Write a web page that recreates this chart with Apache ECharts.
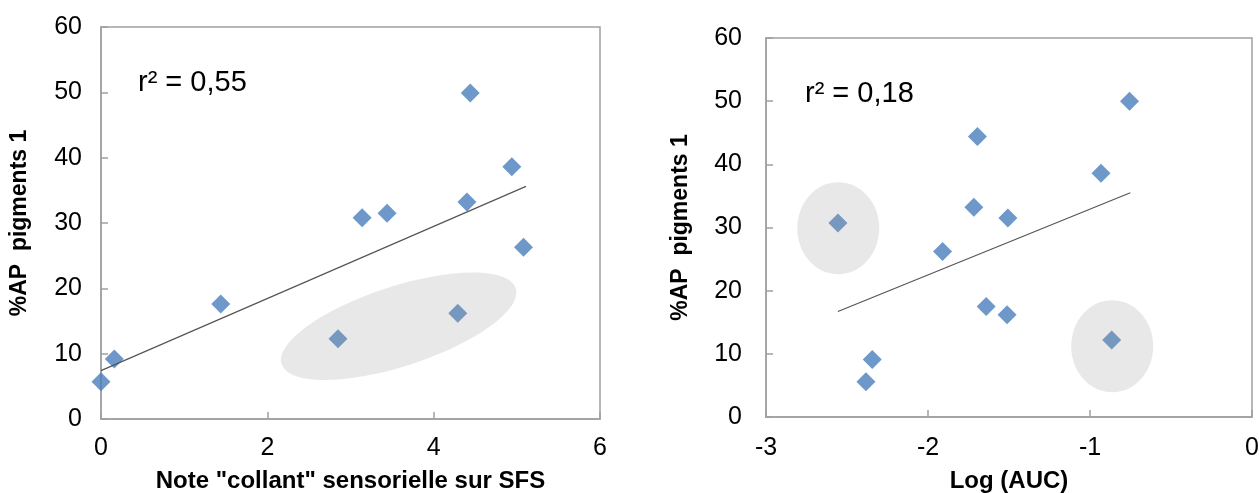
<!DOCTYPE html>
<html>
<head>
<meta charset="utf-8">
<script src="https://cdn.jsdelivr.net/npm/echarts@6/dist/echarts.min.js"></script>
<style>
  html, body { margin: 0; padding: 0; background: #fff; }
  #chart { width: 1259px; height: 493px; }
</style>
</head>
<body>
<div id="chart"></div>
<script>
// left panel: sensory "collant" score vs %AP pigments 1
var leftX = [0, 0.16, 1.44, 2.85, 3.14, 3.44, 4.29, 4.40, 4.44, 4.94, 5.08];
var leftY = [5.7, 9.2, 17.6, 12.3, 30.8, 31.5, 16.2, 33.2, 49.9, 38.6, 26.3];
var leftTrendX = [0, 5.11];
var leftTrendY = [7.4, 35.6];

// right panel: Log (AUC) vs %AP pigments 1
var rightX = [-2.556, -2.344, -2.383, -1.910, -1.717, -1.695, -1.507, -1.641, -1.512, -0.932, -0.866, -0.756];
var rightY = [30.7, 9.1, 5.6, 26.2, 33.2, 44.4, 31.5, 17.5, 16.2, 38.6, 12.2, 50.0];
var rightTrendX = [-2.556, -0.751];
var rightTrendY = [16.7, 35.5];

var yTicks = [0, 10, 20, 30, 40, 50, 60];
var leftXTicks = [0, 2, 4, 6];
var rightXTicks = [-3, -2, -1, 0];

var leftR2 = 'r² = 0,55';
var rightR2 = 'r² = 0,18';

function pairs(xs, ys) {
    return xs.map(function (x, i) { return [x, ys[i]]; });
}

var font = 'Liberation Sans, Arial, sans-serif';
var gray = '#a0a0a0';
var blue = '#4a7ebb';

function xAxis(idx, ticks, name, gap, margin) {
    return {
        gridIndex: idx,
        type: 'value',
        min: ticks[0],
        max: ticks[ticks.length - 1],
        interval: ticks[1] - ticks[0],
        name: name,
        nameLocation: 'middle',
        nameGap: gap,
        nameTextStyle: { fontFamily: font, fontSize: 24, fontWeight: 'bold', color: '#000' },
        axisLine: { onZero: false, lineStyle: { color: gray, width: 1.5 } },
        axisTick: { inside: true, length: 7, lineStyle: { color: gray, width: 1.5 } },
        axisLabel: { fontFamily: font, fontSize: 25, color: '#000', margin: margin },
        splitLine: { show: false }
    };
}

function yAxis(idx, gap, margin) {
    return {
        gridIndex: idx,
        type: 'value',
        min: yTicks[0],
        max: yTicks[yTicks.length - 1],
        interval: 10,
        name: '%AP  pigments 1',
        nameLocation: 'middle',
        nameGap: gap,
        nameTextStyle: { fontFamily: font, fontSize: 23, fontWeight: 'bold', color: '#000' },
        axisLine: { onZero: false, lineStyle: { color: gray, width: 1.5 } },
        axisTick: { inside: true, length: 7, lineStyle: { color: gray, width: 1.5 } },
        axisLabel: { fontFamily: font, fontSize: 25, color: '#000', margin: margin },
        splitLine: { show: false }
    };
}

var chart = echarts.init(document.getElementById('chart'));
var option = {
    animation: false,
    backgroundColor: '#fff',
    grid: [
        { left: 101, top: 27, width: 499, height: 392, show: true, borderColor: gray, borderWidth: 1.5, outerBoundsMode: 'none' },
        { left: 766, top: 38, width: 486, height: 379, show: true, borderColor: gray, borderWidth: 1.5, outerBoundsMode: 'none' }
    ],
    xAxis: [
        xAxis(0, leftXTicks, 'Note "collant" sensorielle sur SFS', 50, 17),
        xAxis(1, rightXTicks, 'Log (AUC)', 52, 19)
    ],
    yAxis: [yAxis(0, 70, 19), yAxis(1, 74, 24)],
    series: [
        {
            type: 'line', xAxisIndex: 0, yAxisIndex: 0,
            data: pairs(leftTrendX, leftTrendY),
            symbol: 'none', lineStyle: { color: '#555', width: 1.2 }
        },
        {
            type: 'scatter', xAxisIndex: 0, yAxisIndex: 0,
            data: pairs(leftX, leftY),
            symbol: 'diamond', symbolSize: 19,
            itemStyle: { color: blue }
        },
        {
            type: 'line', xAxisIndex: 1, yAxisIndex: 1,
            data: pairs(rightTrendX, rightTrendY),
            symbol: 'none', lineStyle: { color: '#555', width: 1.2 }
        },
        {
            type: 'scatter', xAxisIndex: 1, yAxisIndex: 1,
            data: pairs(rightX, rightY),
            symbol: 'diamond', symbolSize: 19,
            itemStyle: { color: blue }
        }
    ]
};
chart.setOption(option);

// grey highlight ellipses (semi-transparent, drawn over the points)
var ellipses = [
    { grid: 0, at: [3.58, 14.2], rx: 123, ry: 40, rot: 18 },
    { grid: 1, at: [-2.554, 29.9], rx: 41, ry: 46, rot: 0 },
    { grid: 1, at: [-0.863, 11.2], rx: 41, ry: 46, rot: 0 }
];
var els = ellipses.map(function (e) {
    var p = chart.convertToPixel({ gridIndex: e.grid }, e.at);
    return {
        type: 'ellipse', x: p[0], y: p[1], z: 100,
        rotation: e.rot * Math.PI / 180,
        shape: { cx: 0, cy: 0, rx: e.rx, ry: e.ry },
        style: { fill: 'rgba(150,150,150,0.22)' },
        silent: true
    };
});
els.push(
    { type: 'text', x: 138, y: 83, z: 100, style: { text: leftR2, font: '29px ' + font, fill: '#000', verticalAlign: 'middle' } },
    { type: 'text', x: 805, y: 94, z: 100, style: { text: rightR2, font: '29px ' + font, fill: '#000', verticalAlign: 'middle' } }
);
chart.setOption({ graphic: { elements: els } });

window.onresize = function () { chart.resize(); };
</script>
</body>
</html>
